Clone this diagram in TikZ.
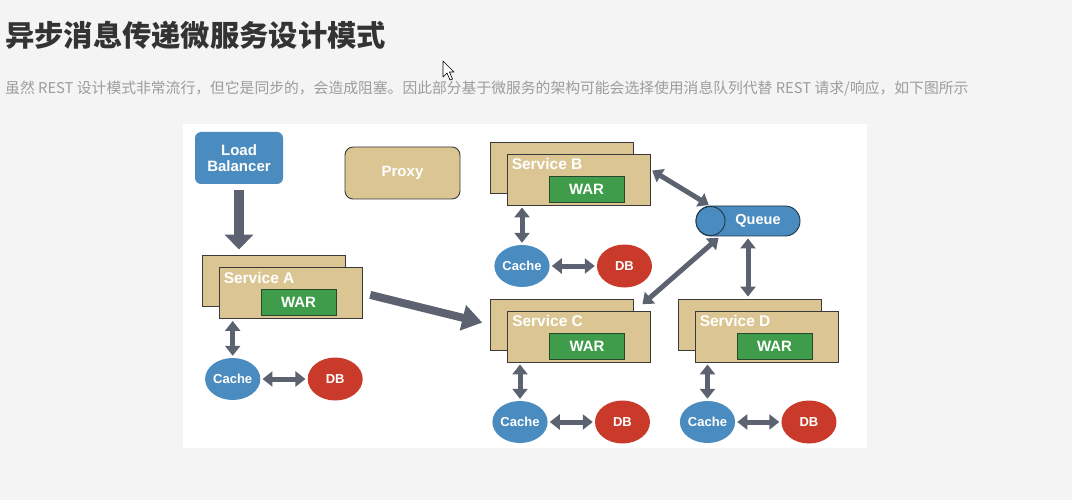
\documentclass[tikz,border=0pt]{standalone}
\usepackage{fontspec}
\setsansfont{Liberation Sans}
\newfontfamily\cjk{Noto Sans CJK SC}
\usetikzlibrary{arrows.meta,shapes.geometric,positioning,calc}

\definecolor{pagebg}{HTML}{F4F4F4}
\definecolor{titlegray}{HTML}{333333}
\definecolor{subgray}{HTML}{9C9C9C}
\definecolor{nodeblue}{HTML}{4A8CBF}
\definecolor{queueline}{HTML}{1E3546}
\definecolor{tan}{HTML}{DBC693}
\definecolor{boxline}{HTML}{3A3A3A}
\definecolor{wargreen}{HTML}{3F9C4A}
\definecolor{warline}{HTML}{29472C}
\definecolor{dbred}{HTML}{C93A2A}
\definecolor{arrowgray}{HTML}{5C6270}

\begin{document}
\begin{tikzpicture}[x=1pt, y=-1pt,
    every node/.style={inner sep=0pt, text=white, font=\sffamily\bfseries\fontsize{15}{16}\selectfont},
    lbbox/.style={fill=nodeblue, rounded corners=6pt, minimum width=88pt, minimum height=52pt, align=center},
    proxybox/.style={draw=boxline, fill=tan, line width=0.9pt, rounded corners=8pt, minimum width=115pt, minimum height=52pt},
    svc/.style={draw=boxline, fill=tan, line width=0.9pt, minimum width=143pt, minimum height=51pt},
    war/.style={draw=warline, fill=wargreen, line width=0.9pt, minimum width=75pt, minimum height=26pt},
    svclabel/.style={anchor=west, font=\sffamily\bfseries\fontsize{15.5}{17}\selectfont},
    cache/.style={ellipse, fill=nodeblue, minimum width=55pt, minimum height=42pt, font=\sffamily\bfseries\fontsize{13}{15}\selectfont},
    db/.style={ellipse, fill=dbred, minimum width=55pt, minimum height=43pt, font=\sffamily\bfseries\fontsize{13}{15}\selectfont},
    queue/.style={draw=queueline, fill=nodeblue, line width=0.9pt, rounded corners=14.8pt, minimum width=104pt, minimum height=30pt},
    qend/.style={circle, draw=queueline, fill=nodeblue, line width=0.9pt, minimum size=29pt},
    link/.style={draw=arrowgray, line width=5pt, shorten <=2pt, shorten >=2pt,
      {Triangle[length=10pt,width=15pt]}-{Triangle[length=10pt,width=15pt]}},
    feed/.style={draw=arrowgray, line width=10pt, shorten <=6pt, shorten >=5pt, -{Triangle[length=15pt,width=28pt]}},
    push/.style={draw=arrowgray, line width=8pt, shorten <=8pt, shorten >=8pt, -{Triangle[length=20pt,width=25pt]}}]

  % page and panel
  \fill[pagebg] (0,0) rectangle (1072,500);
  \fill[white] (183,124) rectangle (867,448);

  \node[anchor=west, text=titlegray, font=\cjk\bfseries\fontsize{29.3}{31}\selectfont] (title) at (5,35) {异步消息传递微服务设计模式};
  \node[anchor=west, text=subgray, font=\cjk\fontsize{14.8}{16}\selectfont] (sub) at (5,89)
    {虽然 REST 设计模式非常流行，但它是同步的，会造成阻塞。因此部分基于微服务的架构可能会选择使用消息队列代替 REST 请求/响应，如下图所示};

  % mouse pointer
  \draw[fill=white, line width=0.6pt, line join=round] (443,61) -- (443,77) -- (447,73) -- (450,80) -- (452.5,79) -- (449.5,72) -- (454,72) -- cycle;

  \node[lbbox] (lb) at (239,158) {Load\\Balancer};
  \node[proxybox] (px) at (402.5,173) {Proxy};

  % services
  \node[svc] (sAback) at (273.5,280.5) {};
  \node[svc] (sA) at ($(sAback)+(17,12.5)$) {};
  \node[war] (warA) at ($(sA)+(8,9.5)$) {WAR};
  \node[svclabel] (labA) at ($(sA.north west)+(5,10.5)$) {Service A};

  \node[svc] (sBback) at (561.5,167.5) {};
  \node[svc] (sB) at ($(sBback)+(17,12)$) {};
  \node[war] (warB) at ($(sB)+(8,9.5)$) {WAR};
  \node[svclabel] (labB) at ($(sB.north west)+(5,10.5)$) {Service B};

  \node[svc] (sCback) at (562,324.5) {};
  \node[svc] (sC) at ($(sCback)+(17,12)$) {};
  \node[war] (warC) at ($(sC)+(8,9.5)$) {WAR};
  \node[svclabel] (labC) at ($(sC.north west)+(5,10.5)$) {Service C};

  \node[svc] (sDback) at (749.5,324.5) {};
  \node[svc] (sD) at ($(sDback)+(17,12)$) {};
  \node[war] (warD) at ($(sD)+(8,9.5)$) {WAR};
  \node[svclabel] (labD) at ($(sD.north west)+(5,10.5)$) {Service D};

  % caches and databases
  \node[cache] (cA) at (232.7,379) {Cache};
  \node[db, right=47pt of cA] (dA) {DB};
  \node[cache] (cB) at (522,266) {Cache};
  \node[db, right=47pt of cB] (dB) {DB};
  \node[cache] (cC) at (520,422) {Cache};
  \node[db, right=47pt of cC] (dC) {DB};
  \node[cache] (cD) at (707.5,422) {Cache};
  \node[db, right=46pt of cD] (dD) {DB};

  % queue
  \node[queue] (q) at (748,221) {};
  \node[qend] (qe) at (710.5,221) {};
  \node[font=\sffamily\bfseries\fontsize{14.5}{16}\selectfont] (qlab) at (758,221) {Queue};

  \draw[feed] (lb.south) -- (lb |- sAback.north);
  \draw[push] (sA.east) -- (sCback.west);

  \draw[link] (cA |- sA.south) -- (cA.north);
  \draw[link] (cA) -- (dA);
  \draw[link] (cB |- sB.south) -- (cB.north);
  \draw[link] (cB) -- (dB);
  \draw[link] (cC |- sC.south) -- (cC.north);
  \draw[link] (cC) -- (dC);
  \draw[link] (cD |- sD.south) -- (cD.north);
  \draw[link] (cD) -- (dD);

  \draw[link] ([yshift=10pt]sB.east) -- (qe.north);
  \draw[link] ([xshift=-28pt]q.south) -- ([xshift=-10pt,yshift=5pt]sC.north east);
  \draw[link] (q.south) -- (q.south |- sDback.north);
\end{tikzpicture}
\end{document}
